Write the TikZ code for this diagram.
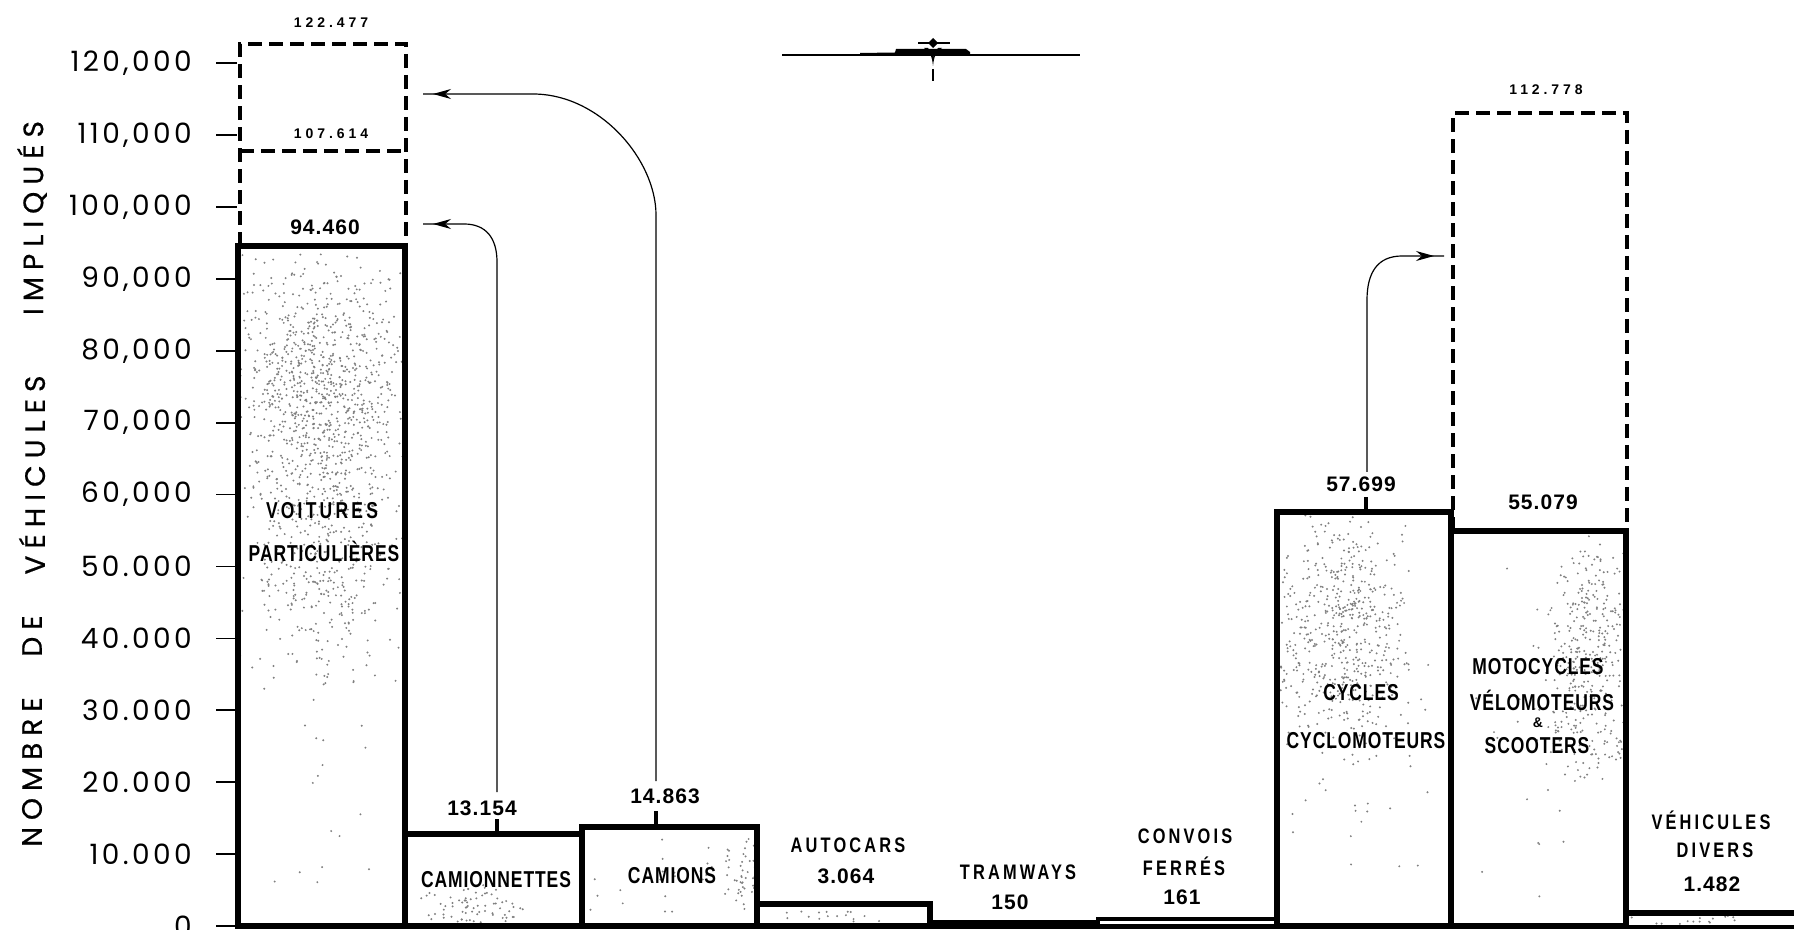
\documentclass[tikz,border=0pt]{standalone}
\usepackage{fontspec}
\setmainfont{Liberation Sans}
\newfontfamily\tickfont[LetterSpace=12]{Poppins}
\newfontfamily\titlefont[LetterSpace=25,FakeBold=0.6]{Poppins}
\newfontfamily\barfont[FakeStretch=0.76,LetterSpace=4]{Liberation Sans}
\newfontfamily\sparsefont[FakeStretch=0.78,LetterSpace=15]{Liberation Sans}
\newfontfamily\valfont[LetterSpace=5]{Liberation Sans}
\newfontfamily\smallvalfont[LetterSpace=28]{Liberation Sans}
\usetikzlibrary{arrows.meta,decorations.markings}
\newcommand\myspeck[5]{\foreach \i in {1,...,#5}{\fill[speckle] ({#1+#3*(rnd+rnd-1)},{#2+#4*(rnd+rnd-1)}) circle[radius=1.1];}}
\tikzset{
  barbox/.style={draw=black, line width=2.8pt, line join=miter},
  thinbar/.style={draw=black, line width=1.8pt},
  dashbox/.style={draw=black, line width=2pt, dash pattern=on 7pt off 3.5pt},
  conn/.style={draw=black, line width=0.6pt},
  stub/.style={draw=black, line width=1.8pt},
  tickmk/.style={draw=black, line width=0.9pt},
  speckle/.style={fill=black!50},
  arrowend/.style={postaction={decorate}, decoration={markings, mark=at position -5pt with {\arrow{Stealth[length=9pt,width=5pt]}}}},
  ticklbl/.style={anchor=east, inner sep=0pt, font=\tickfont\fontsize{14}{16}\selectfont},
  axtitle/.style={rotate=90, inner sep=0pt, font=\titlefont\fontsize{14}{16}\selectfont},
  barlbl/.style={inner sep=0pt, font=\barfont\bfseries\fontsize{11.5}{13}\selectfont},
  sparselbl/.style={inner sep=0pt, font=\sparsefont\bfseries\fontsize{10.5}{12}\selectfont},
  vallbl/.style={inner sep=0pt, font=\valfont\bfseries\fontsize{10.5}{12}\selectfont},
  smallval/.style={inner sep=0pt, font=\smallvalfont\bfseries\fontsize{7}{8}\selectfont},
}
\begin{document}
\begin{tikzpicture}[x=0.5pt,y=-0.5pt]
\useasboundingbox (0,0) rectangle (1794,930);
\pgfmathsetseed{4242}

% ---- speckle texture ----
\begin{scope}
  \clip (238,926) rectangle (405,246);
  \myspeck{320}{390}{95}{150}{1000}
  \myspeck{320}{570}{90}{120}{320}
  \myspeck{321}{600}{90}{330}{70}
\end{scope}
\begin{scope}
  \clip (405,926) rectangle (582,834);
  \myspeck{470}{910}{60}{30}{90}
\end{scope}
\begin{scope}
  \clip (582,926) rectangle (757,827);
  \myspeck{742}{875}{22}{55}{45}
  \myspeck{670}{880}{85}{50}{25}
\end{scope}
\begin{scope}
  \clip (757,926) rectangle (930,904);
  \myspeck{830}{916}{80}{12}{20}
\end{scope}
\begin{scope}
  \clip (1277,926) rectangle (1451,512);
  \myspeck{1345}{630}{75}{140}{560}
  \myspeck{1364}{720}{85}{210}{60}
\end{scope}
\begin{scope}
  \clip (1451,926) rectangle (1626,531);
  \myspeck{1592}{660}{50}{130}{380}
  \myspeck{1538}{730}{85}{200}{40}
\end{scope}
\begin{scope}
  \clip (1626,926) rectangle (1794,913);
  \myspeck{1700}{920}{70}{6}{15}
\end{scope}

% ---- axis ----
\foreach \v/\t in {0/0,1/10.000,2/20.000,3/30.000,4/40.000,5/50.000,6/{60,000},7/{70,000},8/{80,000},9/{90,000},10/{100,000},11/{110,000},12/{120,000}}{
  \node[ticklbl] (tl\v) at (192,{926-71.9*\v}) {\t};
  \coordinate (tk\v) at (216,{926-71.9*\v});
  \draw[tickmk] (tk\v) -- ++(21,0);
}
\node[axtitle] (tN) at (32,772) {NOMBRE};
\node[axtitle] (tD) at (32,636) {DE};
\node[axtitle] (tV) at (32,475) {VÉHICULES};
\node[axtitle] (tI) at (32,218) {IMPLIQUÉS};

% ---- dashed extensions ----
\draw[dashbox] (240,246) -- (240,44) -- (406,44) -- (406,246);
\draw[dashbox] (240,151) -- (406,151);
\draw[dashbox] (1453,531) -- (1453,113) -- (1627,113) -- (1627,531);

% ---- bars ----
\draw[line width=2.4pt] (236,927) -- (1794,927);
\draw[barbox] (238,926) rectangle (405,246);
\draw[barbox] (405,926) rectangle (582,834);
\draw[barbox] (582,926) rectangle (757,827);
\draw[barbox] (757,926) rectangle (930,904);
\draw[thinbar] (930,926) rectangle (1098,922);
\draw[thinbar] (1098,926) rectangle (1277,919);
\draw[barbox] (1277,926) rectangle (1451,512);
\draw[barbox] (1451,926) rectangle (1626,531);
\draw[barbox] (1626,926) -- (1626,913) -- (1800,913);

% ---- value labels ----
\node[vallbl] (l94) at (325,227) {94.460};
\node[smallval] (l107) at (331,134) {107.614};
\node[smallval] (l122) at (331,23) {122.477};
\node[smallval] (l112) at (1546,90) {112.778};
\node[vallbl] (l13) at (482,808) {13.154};
\node[vallbl] (l14) at (665,796) {14.863};
\node[vallbl] (l57) at (1361,484) {57.699};
\node[vallbl] (l55) at (1543,502) {55.079};

% ---- connectors ----
\coordinate (camtTop) at (497,834);
\coordinate (camtStub) at (497,819);
\coordinate (camtLine) at (497,792);
\coordinate (voitLow) at (423,224);
\draw[stub] (camtTop) -- (camtStub);
\draw[conn,arrowend] (camtLine) -- (497,262) .. controls (497,238) and (486,224) .. (464,224) -- (voitLow);

\coordinate (camiTop) at (656,827);
\coordinate (camiStub) at (656,811);
\coordinate (camiLine) at (656,781);
\coordinate (voitHigh) at (423,94);
\draw[stub] (camiTop) -- (camiStub);
\draw[conn,arrowend] (camiLine) -- (656,215) .. controls (656,160) and (600,94) .. (533,94) -- (voitHigh);

\coordinate (cyclTop) at (1366,512);
\coordinate (cyclStub) at (1366,497);
\coordinate (cyclLine) at (1367,472);
\coordinate (motoArr) at (1444,256);
\draw[stub] (cyclTop) -- (cyclStub);
\draw[conn,arrowend] (cyclLine) -- (1367,300) .. controls (1367,272) and (1378,256) .. (1402,256) -- (motoArr);

% ---- bar names ----
\node[barlbl,font=\barfont\addfontfeature{LetterSpace=14}\bfseries\fontsize{11.5}{13}\selectfont] (nVoit) at (322,511) {VOITURES};
\node[barlbl] (nPart) at (324,551) {PARTICULIÈRES};
\node[barlbl] (nCamt) at (496,880) {CAMIONNETTES};
\node[barlbl] (nCami) at (672,876) {CAMIONS};
\node[sparselbl] (nAuto) at (848,845) {AUTOCARS};
\node[vallbl] (vAuto) at (846,876) {3.064};
\node[sparselbl] (nTram) at (1018,872) {TRAMWAYS};
\node[vallbl] (vTram) at (1010,902) {150};
\node[sparselbl] (nConv) at (1185,836) {CONVOIS};
\node[sparselbl] (nFerr) at (1184,866) {FERRÉS};
\node[vallbl] (vConv) at (1182,897) {161};
\node[barlbl] (nCycl) at (1361,693) {CYCLES};
\node[barlbl] (nCyclo) at (1366,741) {CYCLOMOTEURS};
\node[barlbl] (nMoto) at (1538,667) {MOTOCYCLES};
\node[barlbl] (nVelo) at (1542,700) {VÉLOMOTEURS};
\node[inner sep=0pt, font=\bfseries\fontsize{7}{8}\selectfont] (nAmp) at (1538,723) {\&};
\node[barlbl] (nScoo) at (1537,746) {SCOOTERS};
\node[sparselbl] (nDiv1) at (1711,820) {VÉHICULES};
\node[sparselbl] (nDiv2) at (1715,850) {DIVERS};
\node[vallbl] (vDiv) at (1712,884) {1.482};

% ---- ornament ----
\draw[line width=0.8pt] (782,55) -- (1080,55);
\fill (860,56) -- (860,53) -- (895,52.5) -- (896,49) -- (966,49) -- (970,52) -- (970,56) -- cycle;
\draw[line width=0.8pt] (918,43) -- (950,43);
\fill (933,38) -- (938,43) -- (933,48) -- (928,43) -- cycle;
\fill (924,48) .. controls (930,52) and (932,56) .. (933,66) .. controls (934,56) and (936,52) .. (942,48) -- (938,48) .. controls (936,51) and (934,53) .. (933,57) .. controls (932,53) and (930,51) .. (928,48) -- cycle;
\draw[line width=0.8pt] (933,69) -- (933,81);
\end{tikzpicture}
\end{document}
